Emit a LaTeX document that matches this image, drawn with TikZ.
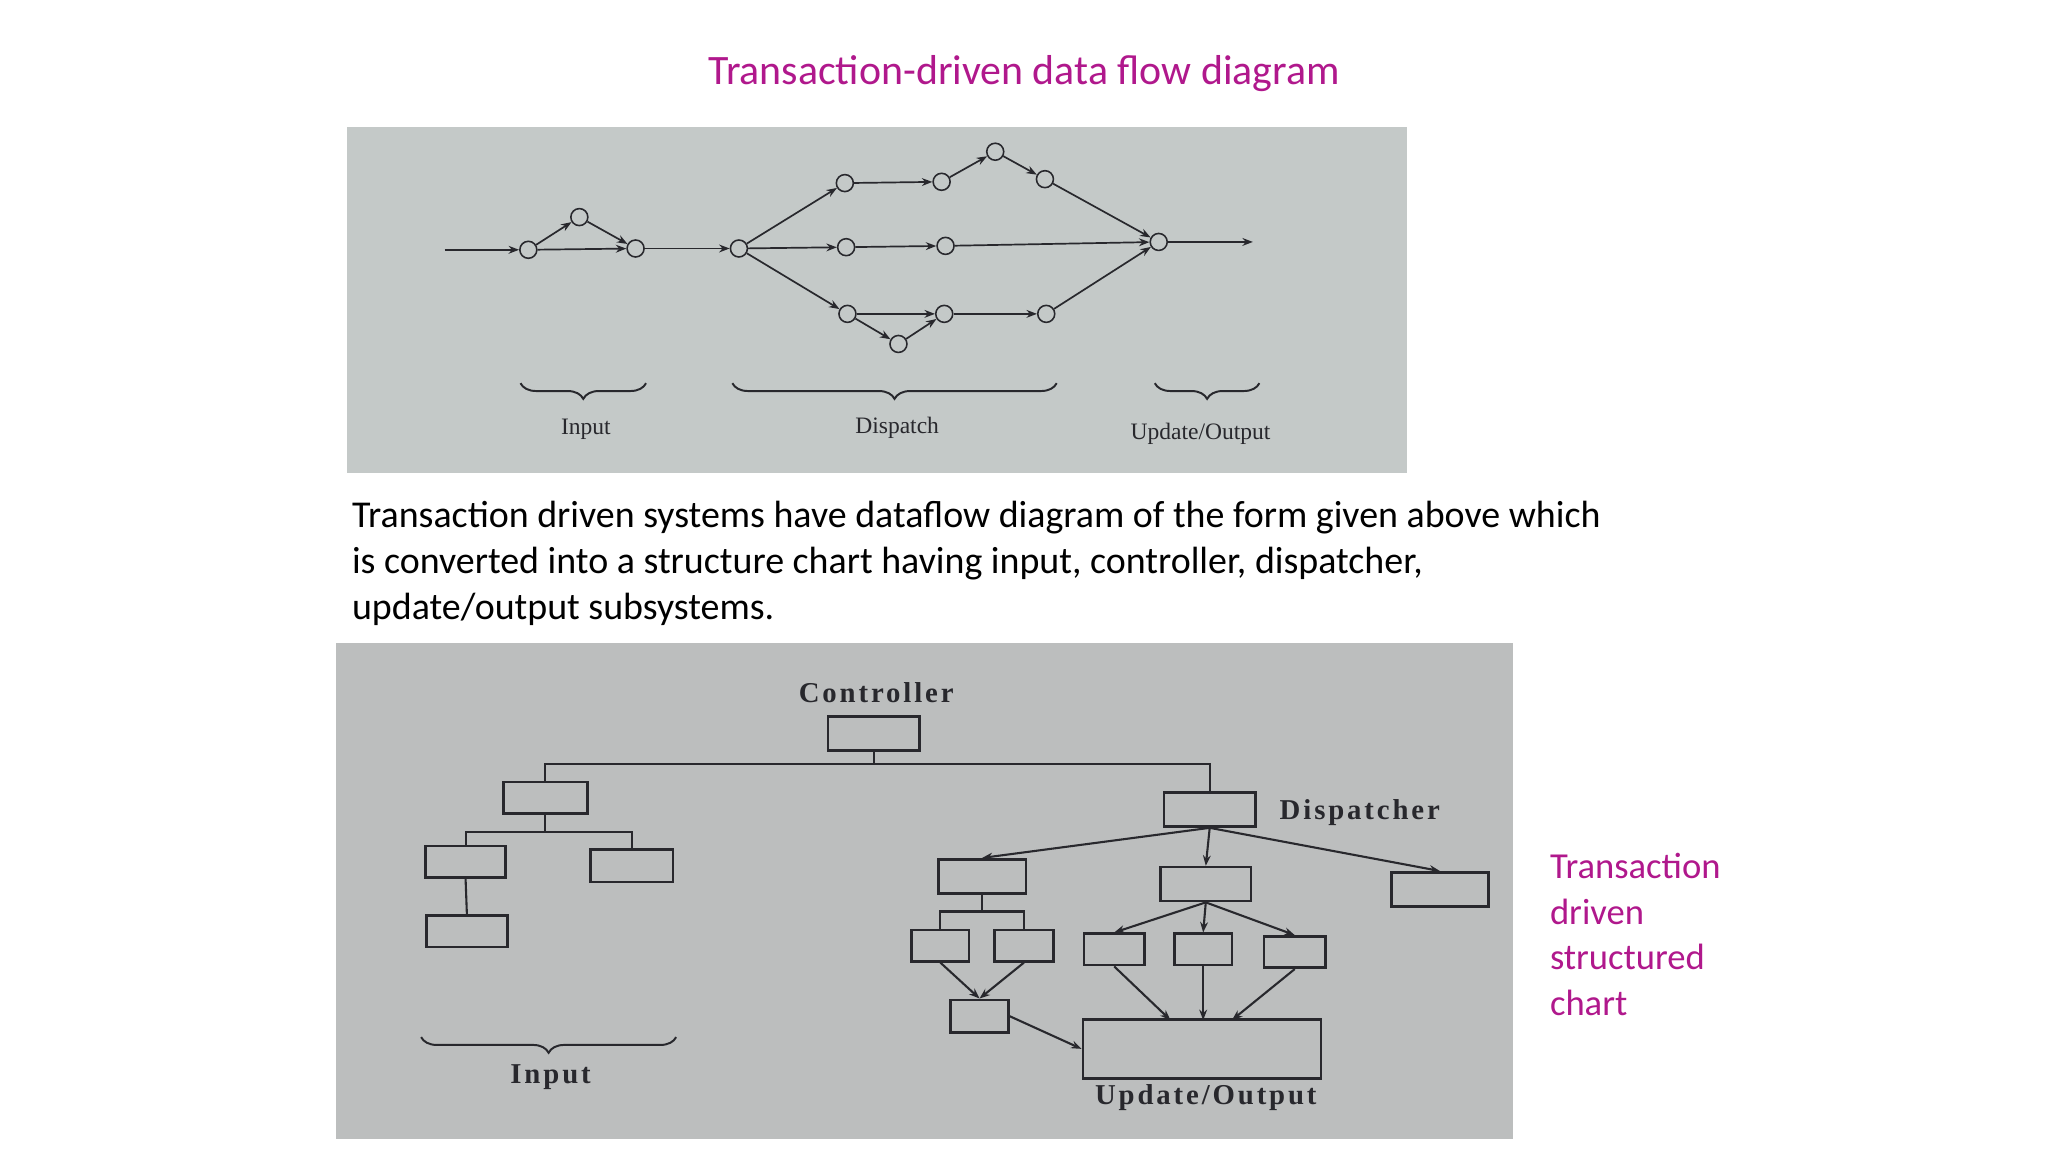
\documentclass[tikz,border=0pt]{standalone}
\usepackage{fontspec}
\setmainfont{Carlito}
\newfontfamily\bookfont{Liberation Serif}
\newfontfamily\bookfontsp[LetterSpace=10]{Liberation Serif}
\usetikzlibrary{arrows.meta,decorations.pathreplacing}
\definecolor{mag}{RGB}{176,24,140}
\definecolor{photo}{RGB}{196,201,200}
\definecolor{photob}{RGB}{188,190,190}
\definecolor{ink}{RGB}{40,40,45}
\tikzset{
  dot/.style={circle,draw=ink,fill=photo,line width=1.2pt,minimum size=13pt,inner sep=0pt},
  fl/.style={draw=ink,line width=1.3pt,-{Stealth[length=8pt,width=6pt]}},
  ln/.style={draw=ink,line width=1.6pt},
  bx/.style={draw=ink,line width=2pt,inner sep=0pt},
  lab/.style={font=\bookfont\fontsize{18}{20}\selectfont,text=ink},
  blab/.style={font=\bookfontsp\bfseries\fontsize{22}{24}\selectfont,text=ink},
  brc/.style={draw=ink,line width=1.5pt,decorate,decoration={brace,mirror,amplitude=12pt}}
}
\begin{document}
\begin{tikzpicture}[x=1pt,y=-1pt]
\useasboundingbox (0,0) rectangle (1566,881);
\node[text=mag,font=\fontsize{32}{36}\selectfont] (title) at (783,56) {Transaction-driven data flow diagram};
% top photo
\fill[photo] (265,97) rectangle (1076,362);
\coordinate (in) at (340,191);
\node[dot] (a) at (404,191) {};
\node[dot] (b) at (443,166) {};
\node[dot] (c) at (486,190) {};
\node[dot] (d) at (565,190) {};
\node[dot] (e) at (646,140) {};
\node[dot] (f) at (720,139) {};
\node[dot] (g) at (761,116) {};
\node[dot] (h) at (799,137) {};
\node[dot] (i) at (647,189) {};
\node[dot] (j) at (723,188) {};
\node[dot] (k) at (648,240) {};
\node[dot] (l) at (687,263) {};
\node[dot] (m) at (722,240) {};
\node[dot] (n) at (800,240) {};
\node[dot] (o) at (886,185) {};
\coordinate (out) at (958,185);
\foreach \p/\q in {in/a,a/b,b/c,a/c,c/d,d/e,e/f,f/g,g/h,h/o,d/i,i/j,j/o,d/k,k/l,l/m,k/m,m/n,n/o,o/out}
  \draw[fl] (\p) -- (\q);
\draw[brc] (398,293) -- (494,293);
\draw[brc] (560,293) -- (808,293);
\draw[brc] (883,293) -- (963,293);
\node[lab] (li) at (448,328) {Input};
\node[lab] (ld) at (686,327) {Dispatch};
\node[lab] (lu) at (918,332) {Update/Output};
% paragraph
\node[anchor=north west,align=left,font=\fontsize{29}{35}\selectfont,inner sep=0pt] (para) at (269,383)
 {Transaction driven systems have dataflow diagram of the form given above which\\
  is converted into a structure chart having input, controller, dispatcher,\\
  update/output subsystems.};
% bottom photo
\fill[photob] (257,492) rectangle (1157,871);
\node[blab] (lc) at (670,530) {Controller};
\node[bx,minimum width=70pt,minimum height=26pt] (C) at (668,561) {};
\node[bx,minimum width=64pt,minimum height=24pt] (I) at (417,610) {};
\node[bx,minimum width=61pt,minimum height=24pt] (I1) at (356,659) {};
\node[bx,minimum width=63pt,minimum height=25pt] (I2) at (483,662) {};
\node[bx,minimum width=62pt,minimum height=24pt] (I3) at (357,712) {};
\node[bx,minimum width=70pt,minimum height=26pt] (D) at (925,619) {};
\node[blab,anchor=west] (ldp) at (975,621) {Dispatcher};
\node[bx,minimum width=67pt,minimum height=26pt] (T1) at (751,670) {};
\node[bx,minimum width=69pt,minimum height=26pt] (T2) at (922,676) {};
\node[bx,minimum width=74pt,minimum height=26pt] (T3) at (1101,680) {};
\node[bx,minimum width=44pt,minimum height=24pt] (A1) at (719,723) {};
\node[bx,minimum width=45pt,minimum height=24pt] (A2) at (783,723) {};
\node[bx,minimum width=44pt,minimum height=25pt] (A3) at (749,777) {};
\node[bx,minimum width=46pt,minimum height=24pt] (B1) at (852,726) {};
\node[bx,minimum width=44pt,minimum height=24pt] (B2) at (920,726) {};
\node[bx,minimum width=47pt,minimum height=24pt] (B3) at (990,728) {};
\node[bx,minimum width=182pt,minimum height=45pt] (U) at (919,802) {};
\node[blab] (lup) at (922,839) {Update/Output};
\node[blab] (lin) at (421,824) {Input};
\draw[ln] (C.south) -- (668,584) coordinate (cj);
\draw[ln] (I.north) |- (cj) -| (D.north);
\draw[ln] (I.south) -- (417,636) coordinate (ij);
\draw[ln] (I1.north) |- (ij) -| (I2.north);
\draw[ln] (I1.south) -- (I3.north);
\draw[fl,line width=1.6pt] (D.south) -- (T1.north);
\draw[fl,line width=1.6pt] (D.south) -- (T2.north);
\draw[fl,line width=1.6pt] (D.south) -- (T3.north);
\draw[ln] (T1.south) -- (751,697) coordinate (tj);
\draw[ln] (A1.north) |- (tj) -| (A2.north);
\draw[fl,line width=1.6pt] (A1.south) -- (A3.north);
\draw[fl,line width=1.6pt] (A2.south) -- (A3.north);
\draw[fl,line width=1.6pt] (A3.east) -- (U.west);
\draw[fl,line width=1.6pt] (T2.south) -- (B1.north);
\draw[fl,line width=1.6pt] (T2.south) -- (B2.north);
\draw[fl,line width=1.6pt] (T2.south) -- (B3.north);
\draw[fl,line width=1.6pt] (B1.south) -- (895,780);
\draw[fl,line width=1.6pt] (B2.south) -- (920,780);
\draw[fl,line width=1.6pt] (B3.south) -- (942,780);
\draw[brc] (322,793) -- (517,793);
% right text
\node[anchor=north west,align=left,text=mag,font=\fontsize{28}{35}\selectfont,inner sep=0pt] (side) at (1185,652)
 {Transaction\\driven\\structured\\chart};
\end{tikzpicture}
\end{document}
